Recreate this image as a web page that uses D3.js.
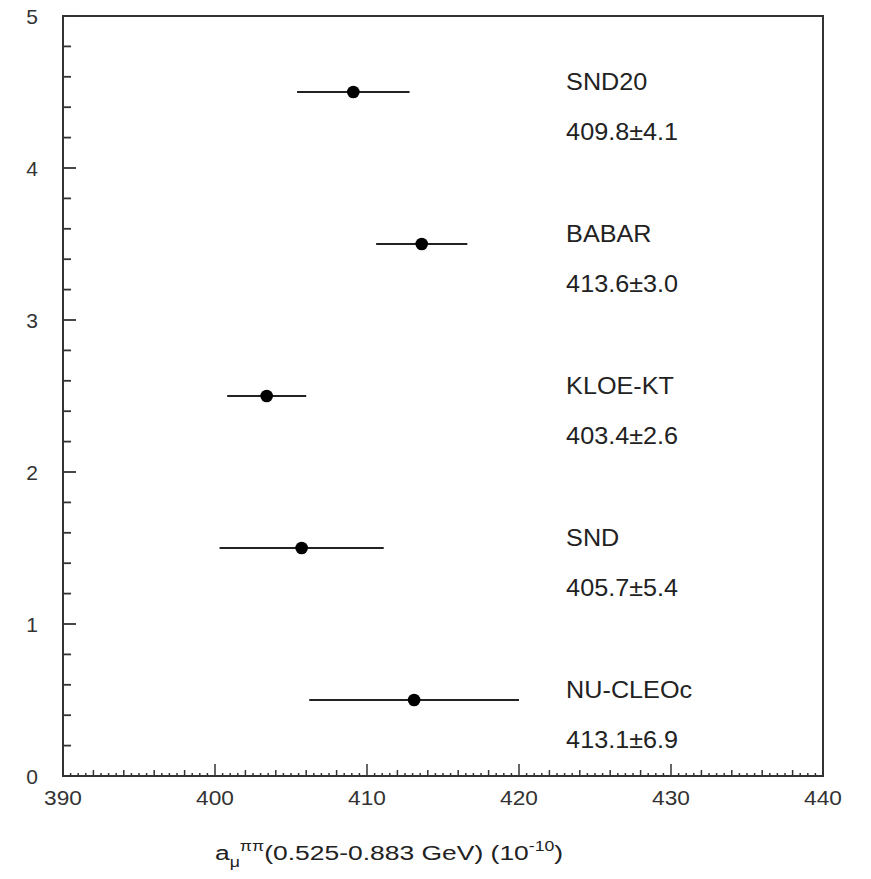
<!DOCTYPE html>
<html><head><meta charset="utf-8">
<script src="https://cdn.jsdelivr.net/npm/d3@7"></script>
<style>body{margin:0;background:#fff} text{font-family:"Liberation Sans",Arial,sans-serif}</style>
</head><body><svg id="c" width="871" height="879"></svg>
<script>
const experiments = ["NU-CLEOc","SND","KLOE-KT","BABAR","SND20"];
const positions = [0.5,1.5,2.5,3.5,4.5];
const values = [413.1,405.7,403.4,413.6,409.1];
const errors = [6.9,5.4,2.6,3.0,3.7];
const valueLabels = ["413.1±6.9","405.7±5.4","403.4±2.6","413.6±3.0","409.8±4.1"];
const xTicks = [390,400,410,420,430,440];
const yTicks = [0,1,2,3,4,5];
const labelX = 423.1;

const svg = d3.select("#c");
const L=63,R=823,T=16,B=776;
const x = d3.scaleLinear().domain([390,440]).range([L,R]);
const y = d3.scaleLinear().domain([0,5]).range([B,T]);
const ink="#333";

svg.append("rect").attr("x",L).attr("y",T).attr("width",R-L).attr("height",B-T)
  .attr("fill","none").attr("stroke",ink).attr("stroke-width",2);

const gx = svg.append("g");
x.ticks(100).forEach(v=>{
  const major = xTicks.includes(v);
  const med = Math.abs(v/2-Math.round(v/2))<1e-6;
  const len = major?12:(med?6:3);
  gx.append("line").attr("x1",x(v)).attr("x2",x(v)).attr("y1",B).attr("y2",B-len)
    .attr("stroke",ink).attr("stroke-width",1.5);
});
xTicks.forEach(v=>{
  gx.append("text").attr("transform",`translate(${x(v)},${B+29}) scale(1.08,1)`).attr("text-anchor","middle")
    .attr("font-size",21).attr("fill",ink).text(v);
});

const gy = svg.append("g");
y.ticks(25).forEach(v=>{
  const major = Math.abs(v-Math.round(v))<1e-6;
  const len = major?13:8;
  gy.append("line").attr("x1",L).attr("x2",L+len).attr("y1",y(v)).attr("y2",y(v))
    .attr("stroke",ink).attr("stroke-width",1.8);
});
yTicks.forEach(v=>{
  gy.append("text").attr("x",38).attr("y",y(v)+7.5).attr("text-anchor","end")
    .attr("font-size",21).attr("fill",ink).text(v);
});

const data = experiments.map((e,i)=>({e,p:positions[i],v:values[i],err:errors[i],lab:valueLabels[i]}));
const g = svg.append("g");
g.selectAll("line.err").data(data).join("line").attr("class","err")
  .attr("x1",d=>x(d.v-d.err)).attr("x2",d=>x(d.v+d.err))
  .attr("y1",d=>y(d.p)).attr("y2",d=>y(d.p))
  .attr("stroke","#222").attr("stroke-width",2);
g.selectAll("circle").data(data).join("circle")
  .attr("cx",d=>x(d.v)).attr("cy",d=>y(d.p)).attr("r",6.3).attr("fill","#000");
g.selectAll("text.name").data(data).join("text").attr("class","name")
  .attr("transform",d=>`translate(${x(labelX)},${y(d.p)-2}) scale(1.05,1)`)
  .attr("font-size",24).attr("fill","#222").text(d=>d.e);
g.selectAll("text.val").data(data).join("text").attr("class","val")
  .attr("transform",d=>`translate(${x(labelX)},${y(d.p)+48}) scale(1.05,1)`)
  .attr("font-size",24).attr("fill","#222").text(d=>d.lab);

const tg = svg.append("g").attr("transform","translate(215,860) scale(1.26,1)");
const t = tg.append("text").attr("font-size",21).attr("fill","#222");
t.append("tspan").text("a");
t.append("tspan").attr("font-size",14).attr("dy",7).text("μ");
t.append("tspan").attr("font-size",14).attr("dy",-16).text("ππ");
t.append("tspan").attr("dy",9).text("(0.525-0.883 GeV) (10");
t.append("tspan").attr("font-size",14).attr("dy",-9).text("-10");
t.append("tspan").attr("dy",9).text(")");
</script></body></html>
